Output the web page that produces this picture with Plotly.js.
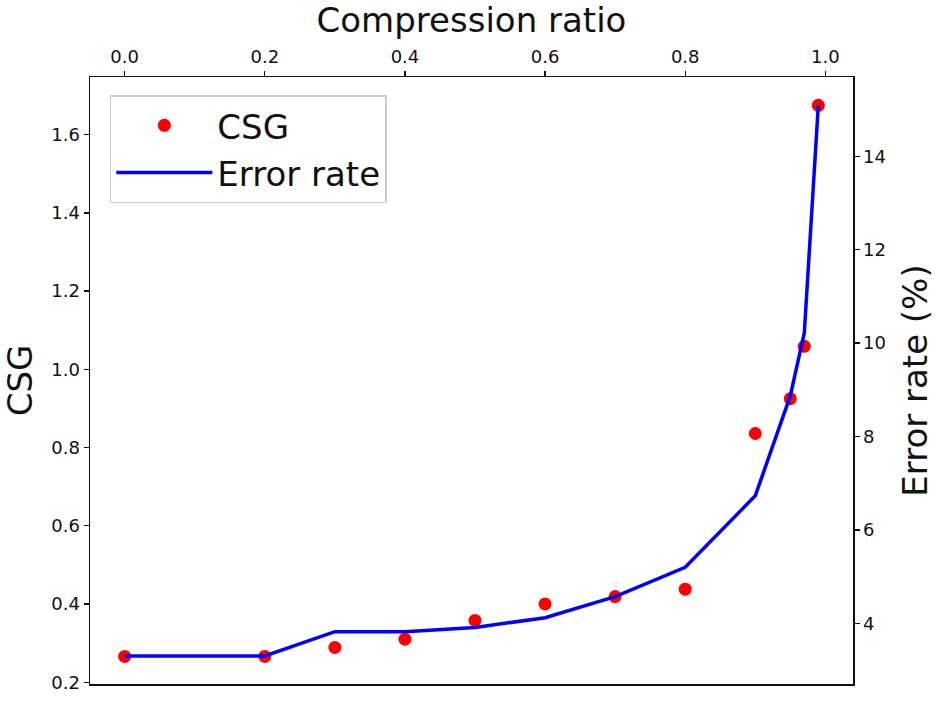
<!DOCTYPE html>
<html>
<head>
<meta charset="utf-8">
<script src="https://cdn.plot.ly/plotly-3.0.1.min.js"></script>
<style>
  html, body { margin: 0; padding: 0; background: #fff; }
  #chart { width: 938px; height: 708px; }
</style>
</head>
<body>
<div id="chart"></div>
<script>
// Compression ratio (x)
const compressionRatio = [0.0, 0.2, 0.3, 0.4, 0.5, 0.6, 0.7, 0.8, 0.9, 0.95, 0.97, 0.99];
// CSG values (left axis)
const csgValues = [0.266, 0.266, 0.289, 0.310, 0.358, 0.400, 0.419, 0.438, 0.836, 0.925, 1.059, 1.675];
// Error rate (%) values (right axis)
const errorRate = [3.30, 3.30, 3.82, 3.82, 3.91, 4.12, 4.57, 5.20, 6.73, 8.87, 10.22, 15.10];

const xTicks = [0.0, 0.2, 0.4, 0.6, 0.8, 1.0];
const yTicks = [0.2, 0.4, 0.6, 0.8, 1.0, 1.2, 1.4, 1.6];
const y2Ticks = [4, 6, 8, 10, 12, 14];

const FONT = 'DejaVu Sans, sans-serif';

const traces = [
  {
    x: compressionRatio,
    y: csgValues,
    name: 'CSG',
    type: 'scatter',
    mode: 'markers',
    marker: { color: '#ff0000', size: 13 },
    xaxis: 'x',
    yaxis: 'y'
  },
  {
    x: compressionRatio,
    y: errorRate,
    name: 'Error rate',
    type: 'scatter',
    mode: 'lines',
    line: { color: '#0000ff', width: 3.5 },
    xaxis: 'x',
    yaxis: 'y2'
  }
];

const axisCommon = {
  showgrid: false,
  zeroline: false,
  showline: true,
  linecolor: '#111',
  linewidth: 1.5,
  ticks: 'outside',
  ticklen: 5,
  tickwidth: 1.3,
  tickcolor: '#111',
  tickfont: { family: FONT, size: 18, color: '#111' }
};

const layout = {
  width: 938,
  height: 708,
  paper_bgcolor: '#fff',
  plot_bgcolor: '#fff',
  margin: { l: 90, r: 85, t: 77, b: 24 },
  font: { family: FONT, color: '#111' },
  showlegend: true,
  legend: {
    x: 0.026, y: 0.97, xanchor: 'left', yanchor: 'top',
    bgcolor: 'rgba(255,255,255,0.8)',
    bordercolor: '#cccccc',
    borderwidth: 1.5,
    font: { family: FONT, size: 34, color: '#111' },
    itemwidth: 96,
    tracegroupgap: 0
  },
  xaxis: Object.assign({}, axisCommon, {
    side: 'top',
    mirror: true,
    range: [-0.0495, 1.0395],
    tickvals: xTicks,
    tickformat: '.1f',
    title: { text: 'Compression ratio', font: { family: FONT, size: 34, color: '#111' }, standoff: 3 }
  }),
  yaxis: Object.assign({}, axisCommon, {
    range: [0.1955, 1.7475],
    tickvals: yTicks,
    tickformat: '.1f',
    title: { text: 'CSG', font: { family: FONT, size: 34, color: '#111' }, standoff: 10 }
  }),
  yaxis2: Object.assign({}, axisCommon, {
    overlaying: 'y',
    side: 'right',
    range: [2.70, 15.70],
    tickvals: y2Ticks,
    title: { text: 'Error rate (%)', font: { family: FONT, size: 34, color: '#111' }, standoff: 18 }
  })
};

Plotly.newPlot('chart', traces, layout, { displayModeBar: false, staticPlot: true });
</script>
</body>
</html>
